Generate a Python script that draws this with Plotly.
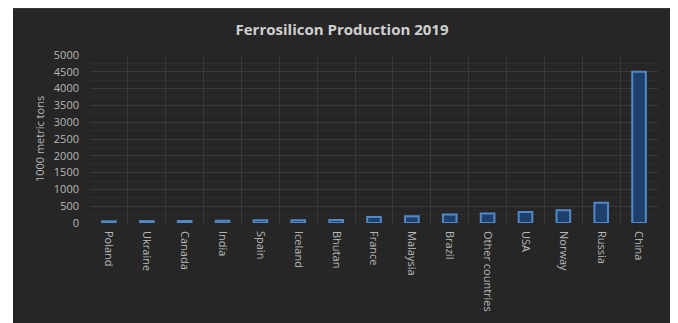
import plotly.graph_objects as go

countries = ["Poland", "Ukraine", "Canada", "India", "Spain", "Iceland", "Bhutan",
             "France", "Malaysia", "Brazil", "Other countries", "USA", "Norway",
             "Russia", "China"]
production = [50, 55, 60, 65, 80, 85, 90, 180, 200, 250, 280, 330, 380, 600, 4500]
y_ticks = [0, 500, 1000, 1500, 2000, 2500, 3000, 3500, 4000, 4500, 5000]

# page body has an 8px margin, so the figure is drawn 8px smaller and offset
OFF = 8
W, H = 678 - OFF, 323 - OFF
L, R, T, B = 90 - OFF, 20, 55 - OFF, 100
pw, ph = W - L - R, H - T - B

def px_x(x):
    return (x - OFF - L) / pw

def px_y(y):
    return (H - B - (y - OFF)) / ph

fig = go.Figure(go.Bar(
    x=countries, y=production,
    marker=dict(color="#1f406c", line=dict(color="#5189c8", width=2)),
    width=0.36,
))

fig.add_shape(type="rect", xref="paper", yref="paper", layer="below",
              x0=px_x(13), x1=px_x(676), y0=px_y(330), y1=px_y(7),
              fillcolor="#262626", line=dict(width=0))
fig.add_shape(type="line", xref="paper", yref="paper", layer="below",
              x0=px_x(13), x1=px_x(676), y0=px_y(8), y1=px_y(8),
              line=dict(color="#4a4a4a", width=1))

fig.update_layout(
    width=W, height=H,
    margin=dict(l=L, r=R, t=T, b=B),
    paper_bgcolor="white",
    plot_bgcolor="rgba(0,0,0,0)",
    showlegend=False,
    title=dict(text="<b>Ferrosilicon Production 2019</b>", x=(342 - OFF) / W,
               xref="container", xanchor="center",
               y=(H - (30 - OFF)) / H, yanchor="middle",
               font=dict(family="Open Sans", size=15, color="#d0d0d0")),
    font=dict(family="Open Sans", color="#b0b0b0"),
    bargap=0.6,
)
fig.update_xaxes(
    tickangle=90, tickfont=dict(size=11, color="#b8b8b8"),
    showgrid=True, gridcolor="#3a3a3a", showline=False, zeroline=False,
    ticks="", tickson="boundaries", ticklabelstandoff=7,
)
fig.update_yaxes(
    range=[0, 5000], tickvals=y_ticks,
    tickfont=dict(size=11, color="#b8b8b8"),
    showgrid=True, gridcolor="#3a3a3a", zeroline=False, showline=False,
    ticklabelstandoff=10,
    title=dict(text="1000 metric tons", font=dict(size=11, color="#b8b8b8"), standoff=6),
    minor=dict(showgrid=True, gridcolor="#2f2f2f", dtick=250),
)

fig.write_html("out.html")
